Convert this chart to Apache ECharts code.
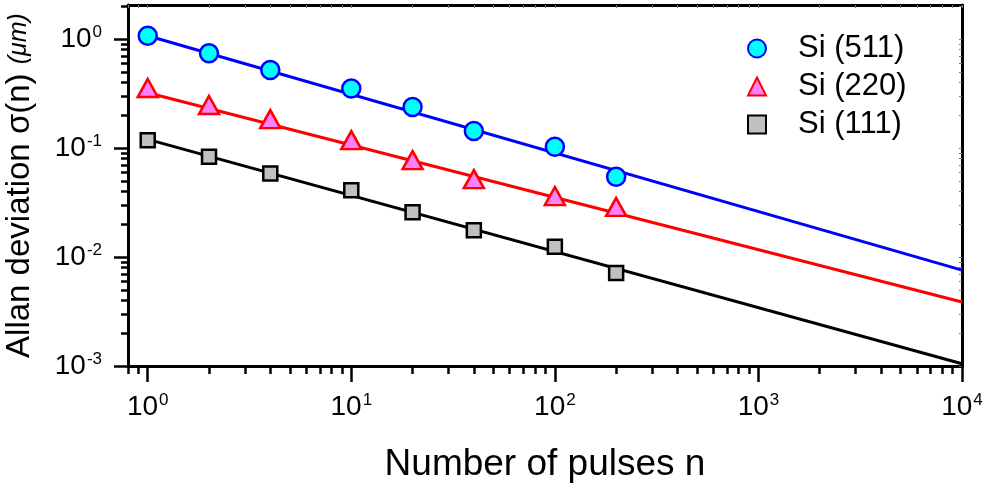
<!DOCTYPE html>
<html>
<head>
<meta charset="utf-8">
<script src="https://cdn.jsdelivr.net/npm/echarts@6/dist/echarts.min.js"></script>
<style>
  html, body { margin: 0; padding: 0; background: #fff; }
  #chart { width: 987px; height: 491px; }
</style>
</head>
<body>
<div id="chart"></div>
<script>
// Measured points (number of pulses vs Allan deviation in um)
const nPulses = [1, 2, 4, 10, 20, 40, 100, 200];
const si511 = [1.07, 0.74, 0.52, 0.352, 0.238, 0.143, 0.1025, 0.0544];
const si220 = [0.355, 0.248, 0.184, 0.118, 0.0774, 0.0518, 0.0362, 0.0288];
const si111 = [0.118, 0.083, 0.0584, 0.041, 0.0258, 0.0176, 0.0124, 0.00714];

// Fit lines, end points
const fitN = [1, 10000];
const fit511 = [1.07, 0.00757];
const fit220 = [0.321, 0.00387];
const fit111 = [0.12, 0.00105];

// Axis ticks
const xMajor = [1, 10, 100, 1000, 10000];
const yMajor = [0.001, 0.01, 0.1, 1];
const minorSteps = [2, 3, 4, 5, 6, 7, 8, 9];

const font = 'Liberation Sans, Arial, sans-serif';
const X_MIN = 0.8, X_MAX = 10000;
const Y_MIN = 0.001, Y_MAX = 2.05;

function minorTicks(majors, lo, hi) {
    const out = [];
    [majors[0] / 10].concat(majors).forEach(m => {
        minorSteps.forEach(s => {
            const v = +(m * s).toPrecision(3);
            if (v >= lo && v <= hi) out.push(v);
        });
    });
    return out;
}
const xMinor = minorTicks(xMajor, X_MIN, X_MAX);
const yMinor = minorTicks(yMajor, Y_MIN, Y_MAX);

function pair(xs, ys) {
    return xs.map((x, i) => [x, ys[i]]);
}

function powLabel(v) {
    const e = Math.round(Math.log10(v));
    return '{b|10}{s|' + e + '}';
}

const labelRich = {
    b: { fontSize: 28, fontFamily: font, color: '#000', lineHeight: 30 },
    s: { fontSize: 17, fontFamily: font, color: '#000', lineHeight: 17, verticalAlign: 'top', padding: [0, 0, 0, 1] }
};

const chart = echarts.init(document.getElementById('chart'));

const frameLine = { show: true, lineStyle: { color: '#000', width: 3 } };

const option = {
    animation: false,
    backgroundColor: '#fff',
    grid: { left: 128, right: 25, top: 5, bottom: 125, containLabel: false, outerBoundsMode: 'none' },
    legend: {
        orient: 'vertical',
        left: 742,
        top: 28,
        itemWidth: 18,
        itemHeight: 18,
        itemGap: 7,
        data: ['Si (511)', 'Si (220)', 'Si (111)'],
        textStyle: { fontSize: 31, fontFamily: font, color: '#000', lineHeight: 30, padding: [0, 0, 0, 27] }
    },
    xAxis: [
        {
            type: 'log', position: 'bottom', min: X_MIN, max: X_MAX,
            name: 'Number of pulses n', nameLocation: 'middle', nameGap: 80,
            nameTextStyle: { fontSize: 37, fontFamily: font, color: '#000' },
            axisLine: frameLine,
            axisTick: { show: true, customValues: xMajor, length: 16, lineStyle: { color: '#000', width: 2.5 } },
            axisLabel: { customValues: xMajor, margin: 26, formatter: powLabel, rich: labelRich },
            splitLine: { show: false }, minorTick: { show: false }
        },
        {
            type: 'log', position: 'bottom', min: X_MIN, max: X_MAX,
            axisLine: { show: false },
            axisTick: { show: true, customValues: xMinor, length: 8, lineStyle: { color: '#000', width: 2.5 } },
            axisLabel: { show: false }, splitLine: { show: false }
        },
        {
            type: 'log', position: 'top', min: X_MIN, max: X_MAX,
            axisLine: frameLine,
            axisTick: { show: true, inside: true, customValues: xMajor.concat(xMinor), length: 3, lineStyle: { color: '#777', width: 1 } },
            axisLabel: { show: false }, splitLine: { show: false }
        }
    ],
    yAxis: [
        {
            type: 'log', position: 'left', min: Y_MIN, max: Y_MAX,
            name: 'Allan deviation σ(n) {i|(μm)}', nameLocation: 'middle', nameGap: 92,
            nameTextStyle: {
                fontSize: 33, fontFamily: font, color: '#000',
                rich: { i: { fontSize: 25, fontStyle: 'italic', fontFamily: font, color: '#000' } }
            },
            axisLine: frameLine,
            axisTick: { show: true, customValues: yMajor, length: 14, lineStyle: { color: '#000', width: 2.5 } },
            axisLabel: { customValues: yMajor, margin: 26, formatter: powLabel, rich: labelRich },
            splitLine: { show: false }, minorTick: { show: false }
        },
        {
            type: 'log', position: 'left', min: Y_MIN, max: Y_MAX,
            axisLine: { show: false },
            axisTick: { show: true, customValues: yMinor, length: 7, lineStyle: { color: '#000', width: 2.5 } },
            axisLabel: { show: false }, splitLine: { show: false }
        },
        {
            type: 'log', position: 'right', min: Y_MIN, max: Y_MAX,
            axisLine: frameLine,
            axisTick: { show: true, inside: true, customValues: yMajor.concat(yMinor), length: 3, lineStyle: { color: '#777', width: 1 } },
            axisLabel: { show: false }, splitLine: { show: false }
        }
    ],
    series: [
        {
            type: 'line', data: pair(fitN, fit511), showSymbol: false, symbol: 'none',
            lineStyle: { color: '#0000ff', width: 3 }, z: 2
        },
        {
            type: 'line', data: pair(fitN, fit220), showSymbol: false, symbol: 'none',
            lineStyle: { color: '#ff0000', width: 3 }, z: 2
        },
        {
            type: 'line', data: pair(fitN, fit111), showSymbol: false, symbol: 'none',
            lineStyle: { color: '#000000', width: 3 }, z: 2
        },
        {
            name: 'Si (511)', type: 'scatter', data: pair(nPulses, si511),
            symbol: 'circle', symbolSize: 18,
            itemStyle: { color: '#00ffff', borderColor: '#0000ff', borderWidth: 2.5, opacity: 1 }, z: 3
        },
        {
            name: 'Si (220)', type: 'scatter', data: pair(nPulses, si220),
            symbol: 'triangle', symbolSize: [20, 18],
            itemStyle: { color: '#ff80ff', borderColor: '#ff0000', borderWidth: 2.5, opacity: 1 }, z: 3
        },
        {
            name: 'Si (111)', type: 'scatter', data: pair(nPulses, si111),
            symbol: 'rect', symbolSize: 14,
            itemStyle: { color: '#c0c0c0', borderColor: '#000000', borderWidth: 2.5, opacity: 1 }, z: 3
        }
    ]
};

chart.setOption(option);
window.addEventListener('resize', () => chart.resize());
</script>
</body>
</html>
